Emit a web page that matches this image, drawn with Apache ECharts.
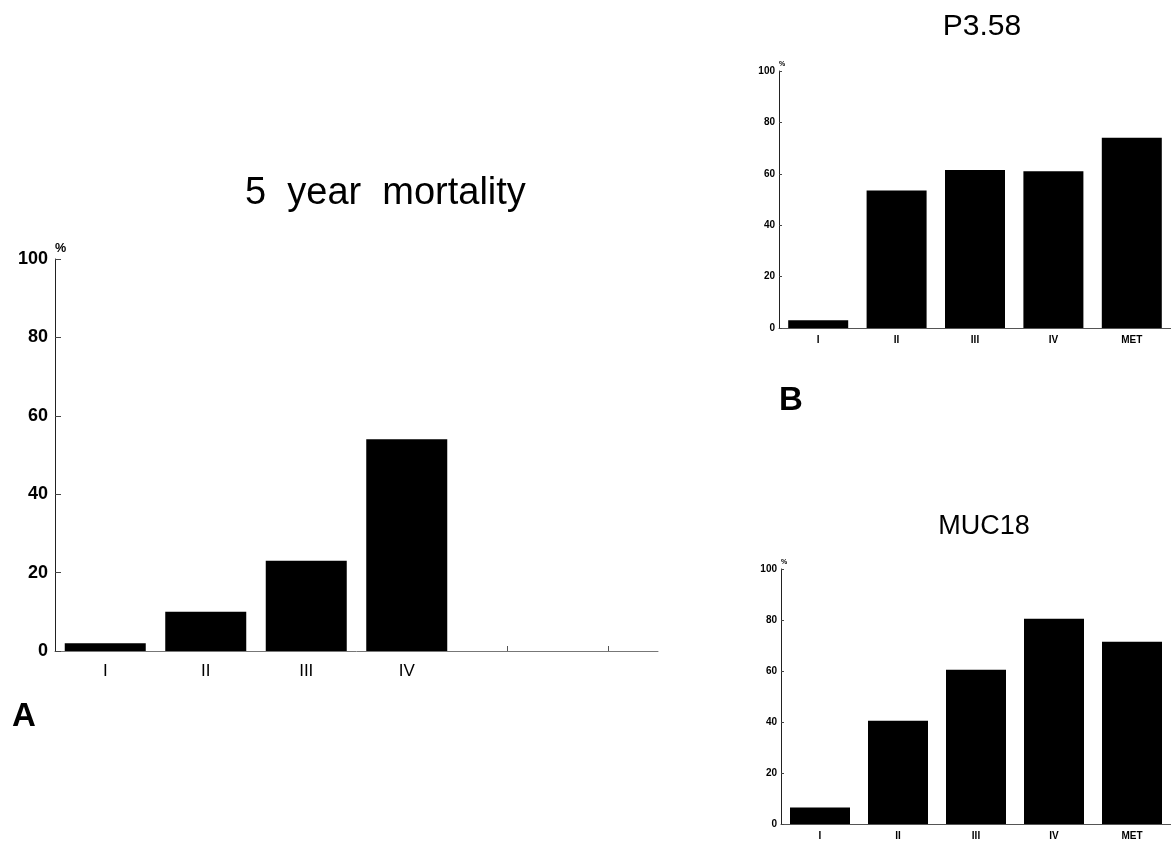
<!DOCTYPE html>
<html>
<head>
<meta charset="utf-8">
<script src="https://cdn.jsdelivr.net/npm/echarts@6/dist/echarts.min.js"></script>
<style>
  html, body { margin: 0; padding: 0; background: #fff; }
  #chart { width: 1171px; height: 841px; }
</style>
</head>
<body>
<div id="chart"></div>
<script>
// 5 year mortality (A)
var stagesA = ['I', 'II', 'III', 'IV', '', ''];
var mortality = [2, 10, 23, 54, null, null];

// P3.58 / MUC18 (B)
var stagesB = ['I', 'II', 'III', 'IV', 'MET'];
var p358 = [3, 53.5, 61.5, 61, 74];
var muc18 = [6.5, 40.5, 60.5, 80.5, 71.5];

var yTicks = [0, 20, 40, 60, 80, 100];

var font = 'Liberation Sans, Arial, Helvetica, sans-serif';

function yAxisOf(grid, size, margin) {
    return {
        type: 'value', gridIndex: grid, min: 0, max: 100, interval: 20,
        name: '%', nameLocation: 'end', nameGap: size > 12 ? 4 : 3,
        nameTextStyle: { fontFamily: font, fontSize: size * 0.7, fontWeight: 'bold', color: '#000', align: 'left' },
        axisLine: { show: true, lineStyle: { color: '#222', width: 1 } },
        axisTick: { show: true, inside: true, length: size > 12 ? 6 : 3, lineStyle: { color: '#444' } },
        splitLine: { show: false },
        axisLabel: { fontFamily: font, fontSize: size, fontWeight: 'bold', color: '#000', margin: margin,
            formatter: function (v) { return yTicks.indexOf(v) >= 0 ? v : ''; } }
    };
}

var chart = echarts.init(document.getElementById('chart'));
var option = {
    backgroundColor: '#fff',
    animation: false,
    title: [
        { text: '5  year  mortality', left: 240, top: 170,
          textStyle: { fontFamily: font, fontSize: 38, fontWeight: 'normal', color: '#000' } },
        { text: 'P3.58', left: 977, top: 7, textAlign: 'center',
          textStyle: { fontFamily: font, fontSize: 30, fontWeight: 'normal', color: '#000' } },
        { text: 'MUC18', left: 979, top: 508, textAlign: 'center',
          textStyle: { fontFamily: font, fontSize: 27, fontWeight: 'normal', color: '#000' } }
    ],
    graphic: [
        { type: 'text', left: 12, top: 700, style: { text: 'A', font: 'bold 33px ' + font, fill: '#000' } },
        { type: 'text', left: 779, top: 384, style: { text: 'B', font: 'bold 33px ' + font, fill: '#000' } }
    ],
    grid: [
        { left: 55, top: 259, width: 603, height: 392 },
        { left: 779, top: 71, width: 398, height: 257 },
        { left: 781, top: 569, width: 397, height: 257 }
    ],
    xAxis: [
        { type: 'category', gridIndex: 0, data: stagesA,
          axisLine: { lineStyle: { color: '#777', width: 1 } },
          axisTick: { show: true, inside: true, alignWithLabel: true, length: 5, lineStyle: { color: '#555' } },
          axisLabel: { fontFamily: font, fontSize: 17, color: '#000', margin: 12 } },
        { type: 'category', gridIndex: 1, data: stagesB,
          axisLine: { lineStyle: { color: '#555', width: 1 } },
          axisTick: { show: false },
          axisLabel: { fontFamily: font, fontSize: 10, fontWeight: 'bold', color: '#000', margin: 7 } },
        { type: 'category', gridIndex: 2, data: stagesB,
          axisLine: { lineStyle: { color: '#555', width: 1 } },
          axisTick: { show: false },
          axisLabel: { fontFamily: font, fontSize: 10, fontWeight: 'bold', color: '#000', margin: 7 } }
    ],
    yAxis: [
        yAxisOf(0, 18, 7),
        yAxisOf(1, 10, 4),
        yAxisOf(2, 10, 4)
    ],
    series: [
        { type: 'bar', xAxisIndex: 0, yAxisIndex: 0, data: mortality, barWidth: 81,
          itemStyle: { color: '#000' } },
        { type: 'bar', xAxisIndex: 1, yAxisIndex: 1, data: p358, barWidth: 60,
          itemStyle: { color: '#000' } },
        { type: 'bar', xAxisIndex: 2, yAxisIndex: 2, data: muc18, barWidth: 60,
          itemStyle: { color: '#000' } }
    ]
};
chart.setOption(option);
</script>
</body>
</html>
